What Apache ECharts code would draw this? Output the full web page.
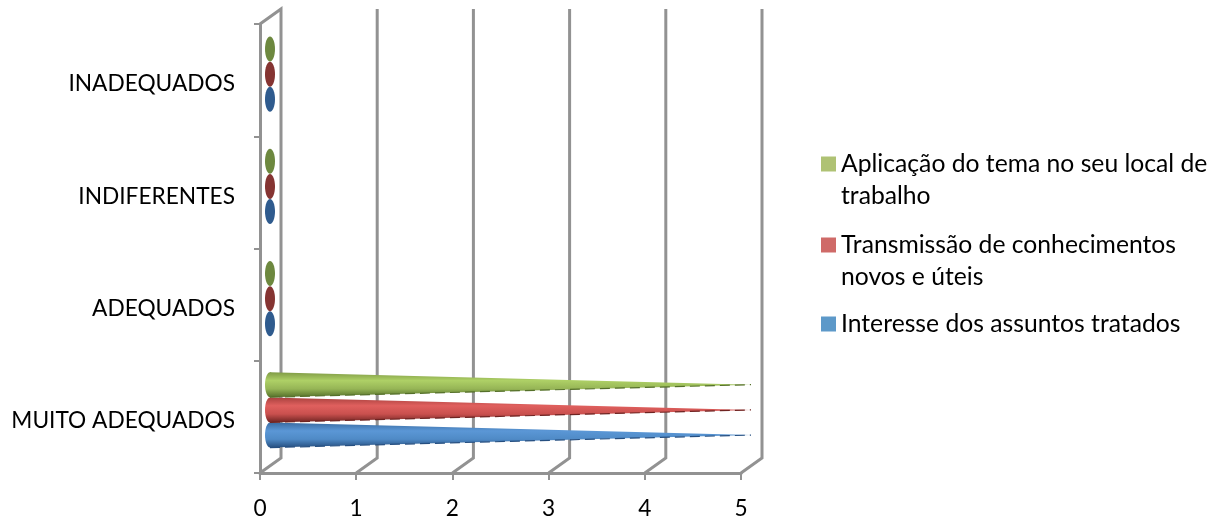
<!DOCTYPE html>
<html><head><meta charset="utf-8">
<style>html,body{margin:0;padding:0;background:#fff}#c{width:1219px;height:522px}</style>
<script src="https://cdn.jsdelivr.net/npm/echarts@6/dist/echarts.min.js"></script>
</head><body><div id="c"></div>
<script>
const categories = ['MUITO ADEQUADOS','ADEQUADOS','INDIFERENTES','INADEQUADOS'];
const xTicks = [0,1,2,3,4,5];
const interesse = [5,0,0,0];
const transmissao = [5,0,0,0];
const aplicacao = [5,0,0,0];
const nameInteresse = 'Interesse dos assuntos tratados';
const nameTransmissao = 'Transmissão de conhecimentos\nnovos e úteis';
const nameAplicacao = 'Aplicação do tema no seu local de\ntrabalho';

const FONT = 'Lato, "Open Sans", sans-serif';
const GRAY = '#929292';
const DX = 21, DY = 15;            // 3D depth of the box
const CX = 10, CY = 7;             // cones sit half way in depth
const RX = 5, RY = 12.5;

const chart = echarts.init(document.getElementById('c'));

function grad(stops){
  return new echarts.graphic.LinearGradient(0,0,0,1,
    stops.map((c,i)=>({offset:i/(stops.length-1),color:c})));
}
function coneSeries(name, values, idx, stops, flat, zeroFill){
  return {
    type:'custom', name, coordinateSystem:'cartesian2d', z:5,
    itemStyle:{color:flat},
    data: values.map((v,i)=>[v,i]),
    encode:{x:0,y:1},
    renderItem(params, api){
      const p0 = api.coord([0, api.value(1)]);
      const p1 = api.coord([api.value(0), api.value(1)]);
      const band = api.size([0,1])[1];
      const off = (1-idx)*band*0.2245;
      const x0 = p0[0]+CX, y0 = p0[1]+off-CY, x1 = p1[0]+CX;
      const children = [];
      if (api.value(0) > 0) {
        children.push({type:'polygon',shape:{points:[[x0,y0-RY],[x1,y0],[x0,y0+RY]]},
          style:{fill:grad(stops)}});
        children.push({type:'line',shape:{x1:x0,y1:y0+RY,x2:x1,y2:y0},
          style:{stroke:stops[stops.length-1],lineWidth:1.2,lineDash:[10,5]}});
        children.push({type:'ellipse',shape:{cx:x0,cy:y0,rx:RX,ry:RY},
          style:{fill:grad(stops)}});
      } else {
        children.push({type:'ellipse',shape:{cx:x0,cy:y0+1,rx:RX,ry:RY},
          style:{fill:zeroFill}});
      }
      return {type:'group',children};
    }
  };
}
const wallSeries = {
  type:'custom', silent:true, z:1, legendHoverLink:false,
  coordinateSystem:'cartesian2d',
  data: xTicks.map(v=>[v,0]),
  encode:{x:0,y:1},
  renderItem(params, api){
    const x = api.coord([api.value(0),0])[0];
    const r = params.coordSys;
    const bottom = r.y+r.height, top = r.y;
    const pts = [[x,bottom],[x+DX,bottom-DY],[x+DX,top-DY]];
    if (api.value(0)===0) pts.push([x,top]);
    return {type:'polyline',shape:{points:pts},
      style:{fill:null,stroke:GRAY,lineWidth:3}};
  }
};
function legendFor(name,color,top){
  return {show:true,orient:'vertical',left:821,top,padding:0,
    itemWidth:15,itemHeight:15,selectedMode:false,icon:'rect',align:'left',
    textStyle:{color:'#000',fontFamily:FONT,fontSize:24.7,lineHeight:32},
    formatter:n=>n.includes('\n') ? ' \n'+n : ' \n'+n+'\n ',
    data:[{name,itemStyle:{color}}]};
}

chart.setOption({
  animation:false,
  backgroundColor:'#fff',
  grid:{left:260,right:478,top:24,bottom:49,containLabel:false},
  xAxis:{type:'value',min:0,max:5,interval:1,
    splitLine:{show:false},
    axisLine:{show:true,lineStyle:{color:GRAY,width:3}},
    axisTick:{show:true,length:7,lineStyle:{color:GRAY,width:2}},
    axisLabel:{color:'#000',fontFamily:FONT,fontSize:22.7,margin:24}},
  yAxis:{type:'category',data:categories,
    axisLine:{show:true,lineStyle:{color:GRAY,width:3}},
    axisTick:{show:true,length:6,lineStyle:{color:GRAY,width:2}},
    axisLabel:{color:'#000',fontFamily:FONT,fontSize:22.7,margin:25,verticalAlign:'top',lineHeight:8}},
  legend:[
    legendFor(nameAplicacao,'#AFC274',116),
    legendFor(nameTransmissao,'#CF6A68',197),
    legendFor(nameInteresse,'#5D99C9',276)
  ],
  series:[
    wallSeries,
    coneSeries(nameInteresse,interesse,0,['#3a6ca3','#5b97d6','#4f8ac6','#264f80'],'#5D99C9','#2f5b8e'),
    coneSeries(nameTransmissao,transmissao,1,['#a8413e','#e0605e','#c9504e','#6f2422'],'#CF6A68','#853432'),
    coneSeries(nameAplicacao,aplicacao,2,['#7f9a45','#aed066','#96b556','#55702a'],'#AFC274','#6d883f')
  ]
});
</script></body></html>
